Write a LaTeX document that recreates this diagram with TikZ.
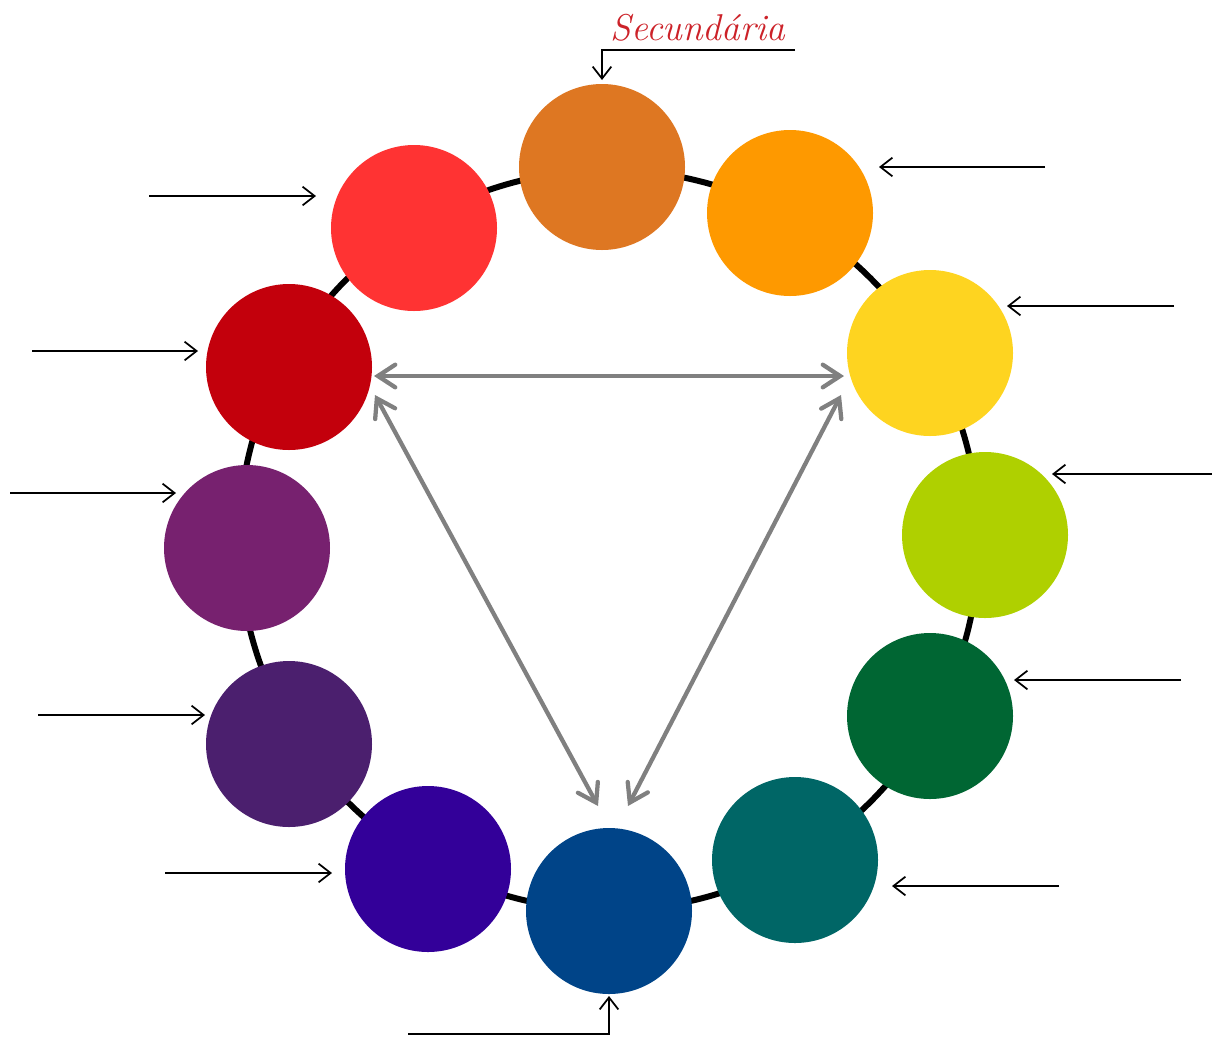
\documentclass[tikz,border=0pt]{standalone}
\usetikzlibrary{arrows.meta}
\definecolor{c1}{HTML}{DE7722}
\definecolor{c2}{HTML}{FE9900}
\definecolor{c3}{HTML}{FED420}
\definecolor{c4}{HTML}{AFD000}
\definecolor{c5}{HTML}{006633}
\definecolor{c6}{HTML}{006666}
\definecolor{c7}{HTML}{004488}
\definecolor{c8}{HTML}{330099}
\definecolor{c9}{HTML}{4B1F6E}
\definecolor{c10}{HTML}{77216F}
\definecolor{c11}{HTML}{C3000C}
\definecolor{c12}{HTML}{FF3333}
\definecolor{labred}{HTML}{CC2229}
\definecolor{arrgrey}{HTML}{808080}
\begin{document}
\begin{tikzpicture}[x=0.75pt,y=-0.75pt,
  disc/.style={circle,minimum size=166*0.75pt,inner sep=0pt,draw=none},
  ptr/.style={black,line width=1.5pt,-{Straight Barb[length=9pt,width=14pt,line width=1.3pt]}},
  rel/.style={arrgrey,line width=3.2pt,{Straight Barb[length=13pt,width=17pt,line cap=round]}-{Straight Barb[length=13pt,width=17pt,line cap=round]}}]
\useasboundingbox (0,0) rectangle (1212,1036);
\draw[line width=4.5pt] (609,540) circle [radius=370];
\node[disc,fill=c1] (n1) at (602,167) {};
\node[disc,fill=c2] (n2) at (790,213) {};
\node[disc,fill=c3] (n3) at (930,353) {};
\node[disc,fill=c4] (n4) at (985,535) {};
\node[disc,fill=c5] (n5) at (930,716) {};
\node[disc,fill=c6] (n6) at (795,860) {};
\node[disc,fill=c7] (n7) at (609,911) {};
\node[disc,fill=c8] (n8) at (428,869) {};
\node[disc,fill=c9] (n9) at (289,744) {};
\node[disc,fill=c10] (n10) at (247,548) {};
\node[disc,fill=c11] (n11) at (289,367) {};
\node[disc,fill=c12] (n12) at (414,228) {};
% grey relation arrows
\coordinate (g1) at (374,376);
\coordinate (g2) at (844,376);
\coordinate (g3) at (375,395);
\coordinate (g4) at (598,806);
\coordinate (g5) at (841,395);
\coordinate (g6) at (628,806);
\draw[rel] (g1) -- (g2);
\draw[rel] (g3) -- (g4);
\draw[rel] (g5) -- (g6);
% label
\node[text=labred,font=\fontsize{28}{32}\selectfont\itshape] (lab) at (698,28) {Secundária};
\coordinate (s0) at (795,50);
\coordinate (s1) at (602,50);
\coordinate (s2) at (602,80);
\draw[ptr] (s0) -- (s1) -- (s2);
% pointer arrows
\coordinate (a1) at (149,196); \coordinate (b1) at (316,196);
\coordinate (a2) at (32,351);  \coordinate (b2) at (198,351);
\coordinate (a3) at (10,493);  \coordinate (b3) at (176,493);
\coordinate (a4) at (38,715);  \coordinate (b4) at (205,715);
\coordinate (a5) at (165,873); \coordinate (b5) at (332,873);
\coordinate (a6) at (1059,886); \coordinate (b6) at (892,886);
\coordinate (a7) at (1181,680); \coordinate (b7) at (1014,680);
\coordinate (a8) at (1212,474); \coordinate (b8) at (1052,474);
\coordinate (a9) at (1174,306); \coordinate (b9) at (1007,306);
\coordinate (a10) at (1045,167); \coordinate (b10) at (879,167);
\foreach \i in {1,...,10} {\draw[ptr] (a\i) -- (b\i);}
\coordinate (u0) at (408,1034);
\coordinate (u1) at (609,1034);
\coordinate (u2) at (609,996);
\draw[ptr] (u0) -- (u1) -- (u2);
\end{tikzpicture}
\end{document}
